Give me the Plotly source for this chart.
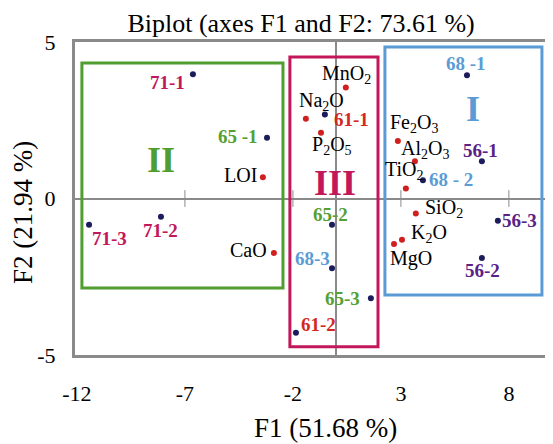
import plotly.graph_objects as go

# ---- data ----
obs_labels = ["71-1", "71-2", "71-3", "65 -1", "65-2", "65-3", "61-1", "61-2",
              "68 -1", "68 - 2", "68-3", "56-1", "56-2", "56-3"]
obs_f1 = [-6.63, -8.11, -11.44, -3.20, -0.19, 1.61, -0.52, -1.86,
          6.06, 4.02, -0.19, 6.75, 6.75, 7.49]
obs_f2 = [3.97, -0.58, -0.84, 1.94, -0.84, -3.19, 2.68, -4.29,
          3.94, 0.58, -2.23, 1.19, -1.90, -0.71]

var_labels = ["LOI", "MnO<sub>2</sub>", "Na<sub>2</sub>O", "P<sub>2</sub>O<sub>5</sub>",
              "Fe<sub>2</sub>O<sub>3</sub>", "Al<sub>2</sub>O<sub>3</sub>", "TiO<sub>2</sub>",
              "SiO<sub>2</sub>", "K<sub>2</sub>O", "MgO", "CaO"]
var_f1 = [-3.39, 0.45, -1.40, -0.70, 2.86, 3.65, 3.23, 3.69, 3.05, 2.68, -2.88]
var_f2 = [0.68, 3.55, 2.55, 2.10, 1.84, 1.19, 0.32, -0.48, -1.32, -1.45, -1.74]

x_ticks = [-12, -7, -2, 3, 8]
x_ticktext = ["-12", "-7", "-2", "3", "8"]
y_ticks = [-5, 0, 5]
y_ticktext = ["-5", "0", "5"]

# groups (class label, extents in F1/F2 units)
group_names = ["II", "III", "I"]
group_f1 = [(-11.77, -2.46), (-2.14, 1.94), (2.26, 9.53)]
group_f2 = [(-2.86, 4.33), (-4.74, 4.52), (-3.08, 4.84)]
group_label_pos = [(-8.11, 1.23), (-0.06, 0.50), (6.33, 2.86)]

# ---- styles / label placement (pixel offsets) ----
FONT = "Liberation Serif"
series_colors = {"71": "#c2185b", "65": "#55a032", "61": "#d3281f",
                 "68": "#5b9bd5", "56": "#5a2286"}
group_colors = ["#4f9e2f", "#c2185b", "#5b9bd5"]
obs_offsets = {"71-1": (-25, -8), "71-2": (0, -14), "71-3": (20, -14),
               "65 -1": (-29, 1), "65-2": (-2, 10), "65-3": (-28, 0),
               "61-1": (27, -5), "61-2": (23, 8), "68 -1": (-1, 12),
               "68 - 2": (28, 1), "68-3": (-20, 10), "56-1": (-1, 11),
               "56-2": (1, -13), "56-3": (22, 0)}
var_offsets = [(-22, 2), (1, 13), (16, 17), (11, -13), (16, 17), (10, 12),
               (-1, 18), (28, 5), (27, 6), (17, -15), (-25, 3)]

fig = go.Figure()

# group boxes
for name, (x0, x1), (y0, y1), col in zip(group_names, group_f1, group_f2, group_colors):
    fig.add_shape(type="rect", xref="x", yref="y", x0=x0, x1=x1, y0=y0, y1=y1,
                  line=dict(color=col, width=3), fillcolor="rgba(0,0,0,0)", layer="above")

# small tick marks on the zero line
fig.add_trace(go.Scatter(x=x_ticks[1:], y=[0] * (len(x_ticks) - 1), mode="markers",
                         marker=dict(symbol="line-ns", size=12,
                                     line=dict(color="#8a8a8a", width=1)),
                         hoverinfo="skip", showlegend=False))

fig.add_trace(go.Scatter(x=var_f1, y=var_f2, mode="markers",
                         marker=dict(color="#d01f1f", size=6),
                         text=var_labels, showlegend=False))
fig.add_trace(go.Scatter(x=obs_f1, y=obs_f2, mode="markers",
                         marker=dict(color="#1c1c5c", size=6),
                         text=obs_labels, showlegend=False))

annotations = []
for lab, x, y in zip(obs_labels, obs_f1, obs_f2):
    dx, dy = obs_offsets[lab]
    annotations.append(dict(x=x, y=y, xref="x", yref="y", text="<b>%s</b>" % lab,
                            showarrow=False, xshift=dx, yshift=dy,
                            font=dict(family=FONT, size=19, color=series_colors[lab[:2]])))
for lab, x, y, (dx, dy) in zip(var_labels, var_f1, var_f2, var_offsets):
    annotations.append(dict(x=x, y=y, xref="x", yref="y", text=lab,
                            showarrow=False, xshift=dx, yshift=dy,
                            font=dict(family=FONT, size=20, color="black")))
for name, (gx, gy), col in zip(group_names, group_label_pos, group_colors):
    annotations.append(dict(x=gx, y=gy, xref="x", yref="y", text="<b>%s</b>" % name,
                            showarrow=False,
                            font=dict(family=FONT, size=36, color=col)))
annotations.append(dict(x=-0.109, y=0.454, xref="paper", yref="paper",
                        xanchor="center", yanchor="middle",
                        text="F2 (21.94 %)", textangle=-90, showarrow=False,
                        font=dict(family=FONT, size=27, color="black")))
annotations.append(dict(x=0.527, y=-0.233, xref="paper", yref="paper",
                        xanchor="center", yanchor="middle",
                        text="F1 (51.68 %)", showarrow=False,
                        font=dict(family=FONT, size=27, color="black")))

axis_common = dict(showgrid=False, zeroline=True, zerolinecolor="#8a8a8a",
                   zerolinewidth=2, showline=True, mirror=True,
                   linecolor="#8a8a8a", linewidth=3, ticks="", automargin=False,
                   tickfont=dict(family=FONT, size=22, color="black"))

fig.update_layout(
    width=553, height=444,
    margin=dict(l=67, r=10, t=34, b=97),
    paper_bgcolor="white", plot_bgcolor="white",
    title=dict(text="Biplot (axes F1 and F2: 73.61 %)", x=0.53, xanchor="center",
               y=0.966, yanchor="middle", yref="container", automargin=False,
               font=dict(family=FONT, size=26, color="black")),
    xaxis=dict(range=[-12.09, 9.95], tickvals=x_ticks, ticktext=x_ticktext,
               ticklabelstandoff=17, **axis_common),
    yaxis=dict(range=[-5, 5], tickvals=y_ticks, ticktext=y_ticktext,
               ticklabelstandoff=12, **axis_common),
    annotations=annotations,
)

fig.write_html("out.html")
